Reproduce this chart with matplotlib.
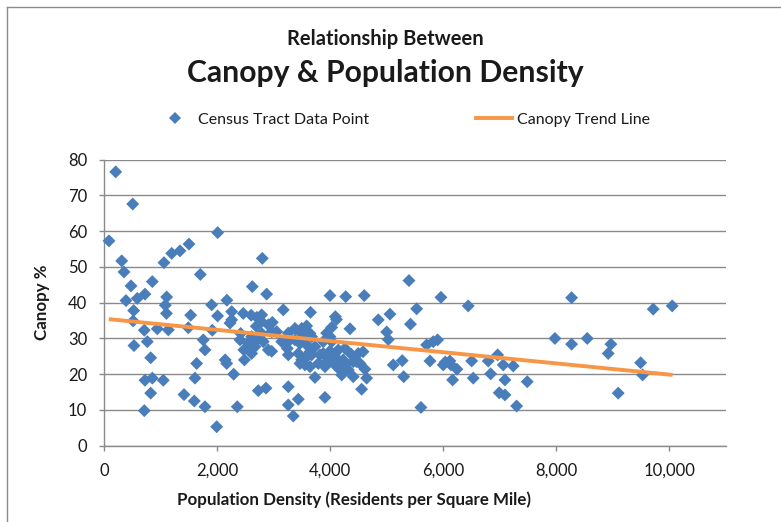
import matplotlib
matplotlib.use("Agg")
import matplotlib.pyplot as plt
from matplotlib.lines import Line2D

plt.rcParams['font.family'] = ['Lato', 'DejaVu Sans']

# Census tract data: population density (residents / sq mi) and canopy %
density = [
    83, 202, 503, 308, 349, 473, 384, 584, 720, 850, 1056, 1193, 1340, 1499, 2007, 1700,
    1104, 1080, 1100, 520, 510, 708, 938, 1133, 761, 525, 821, 1529, 1487, 1900, 2005,
    1912, 2170, 2255, 2255, 2225, 2460, 2414, 1752, 1782, 1635, 2140, 2166, 2470, 2480,
    2290, 720, 850, 1044, 1605, 821, 1411, 1593, 1782, 2354, 708, 1989,
    2620, 2797, 2874, 3995, 4273, 4602, 3168, 3650, 2600, 2700, 2786, 2786, 2975, 2903,
    2690, 4090, 4110, 4349, 3375, 3582, 3494, 4025, 3936, 3257, 3641, 2786, 2963, 3051,
    3494, 3995, 2609, 2402, 2697, 2814, 3140, 3257, 3375, 3552, 3464, 3582, 3670, 3876,
    4025, 2549, 2667, 2549, 2608, 2903, 2963, 3240, 3257, 3434, 3729, 3641, 3818, 3876,
    3995, 4142, 4083, 4260, 4370, 4496, 4580, 3494, 3552, 3582, 3670, 3965, 4083, 4142,
    4230, 4407, 4467, 3936, 3464, 3788, 4526, 3552, 3641, 3906, 4083, 4202, 4260, 4172,
    4319, 4614, 3729, 4202, 4407, 4644, 4555, 3257, 2726, 2862, 3434, 3257, 3906, 3345,
    4850, 5057, 5393, 5529, 5959, 6442, 5420, 4998, 5027, 5706, 5823, 5900, 5115, 5274,
    5300, 5605, 5765, 6000, 6036, 6118, 6137, 6166, 6242, 6503, 6531, 6797, 6839, 6963,
    6991, 7062, 7092, 7092, 7239, 7299, 7487, 7977, 8272, 8272, 8549, 8920, 8968, 9097,
    9494, 9529, 9717, 10053,
]
canopy = [
    57.3, 76.6, 67.6, 51.7, 48.6, 44.7, 40.6, 41.2, 42.4, 45.9, 51.2, 53.8, 54.5, 56.4, 59.6, 47.9,
    41.6, 39.3, 37.0, 37.8, 34.9, 32.3, 32.7, 32.4, 29.1, 28.0, 24.6, 36.5, 33.0, 39.4, 36.3,
    32.3, 40.7, 37.5, 35.2, 34.3, 37.0, 31.4, 29.6, 26.8, 23.0, 24.0, 23.0, 26.8, 24.0,
    20.0, 18.3, 18.9, 18.3, 18.9, 14.7, 14.3, 12.5, 10.9, 10.9, 9.8, 5.3,
    44.5, 52.4, 42.4, 42.0, 41.7, 42.0, 38.0, 37.3, 36.5, 35.9, 36.6, 34.7, 34.5, 33.8,
    33.4, 36.1, 35.3, 32.7, 32.8, 33.5, 32.8, 33.1, 31.5, 31.5, 31.4, 31.4, 31.9, 31.9,
    31.4, 30.5, 30.5, 29.6, 29.6, 29.1, 29.1, 29.1, 29.6, 29.8, 28.6, 28.2, 30.5, 29.1,
    29.1, 28.6, 27.7, 27.0, 25.8, 26.8, 26.4, 27.2, 25.4, 25.8, 27.7, 26.3, 25.4, 25.8,
    26.5, 26.8, 25.8, 27.2, 25.6, 25.8, 26.3, 24.0, 24.4, 24.9, 25.4, 24.4, 24.4, 24.0,
    24.0, 23.5, 23.5, 23.5, 23.0, 23.0, 23.0, 22.6, 22.1, 22.1, 22.6, 22.1, 22.6, 21.2,
    21.2, 21.4, 19.1, 19.8, 19.3, 18.9, 15.8, 16.5, 15.4, 16.1, 13.0, 11.4, 13.5, 8.3,
    35.2, 36.8, 46.2, 38.3, 41.5, 39.1, 34.0, 31.8, 29.7, 28.2, 29.1, 29.6, 22.6, 23.8,
    19.3, 10.7, 23.7, 22.6, 23.4, 23.7, 22.6, 18.4, 21.4, 23.7, 18.9, 23.7, 20.1, 25.4,
    14.8, 22.6, 18.4, 14.2, 22.3, 11.1, 17.9, 30.0, 41.4, 28.4, 30.0, 25.8, 28.4, 14.7,
    23.2, 19.8, 38.2, 39.1,
]

# Trend line end points
trend_x = [80, 10060]
trend_y = [35.4, 19.8]

x_ticks = [0, 2000, 4000, 6000, 8000, 10000]
y_ticks = [0, 10, 20, 30, 40, 50, 60, 70, 80]

W, H = 781, 522
fig = plt.figure(figsize=(W / 100, H / 100), dpi=100)
fig.patch.set_facecolor('white')

ax = fig.add_axes([104.3 / W, 1 - 445.7 / H, (725.7 - 104.3) / W, (445.7 - 159.7) / H])

grid_c = '#8a8a8a'
ax.set_xlim(0, 11000)
ax.set_ylim(0, 80)
ax.set_yticks(y_ticks)
ax.set_xticks(x_ticks)
ax.set_xticklabels([f"{v:,}" for v in x_ticks])
ax.yaxis.grid(True, color=grid_c, linewidth=1.0)
ax.set_axisbelow(True)
for s in ['top', 'right']:
    ax.spines[s].set_visible(False)
for s in ['left', 'bottom']:
    ax.spines[s].set_color(grid_c)
    ax.spines[s].set_linewidth(1.0)
ax.tick_params(axis='both', direction='out', length=3.8, width=1.0, color=grid_c,
               labelsize=12, labelcolor='#1a1a1a', pad=8.5)

ax.scatter(density, canopy, marker='D', s=6.6 ** 2, color='#4a7ebb',
           edgecolors='none', zorder=3, clip_on=False)
ax.plot(trend_x, trend_y, color='#f79646', linewidth=2.8, zorder=4,
        solid_capstyle='butt')

# Titles
fig.text(385 / W, 1 - 39 / H, 'Relationship Between', ha='center', va='center',
         fontsize=14.5, fontweight='bold', color='#1a1a1a')
fig.text(385 / W, 1 - 73 / H, 'Canopy & Population Density', ha='center', va='center',
         fontsize=21.7, fontweight='bold', color='#1a1a1a')

# Axis labels
fig.text(42 / W, 1 - 302 / H, 'Canopy %', rotation=90, ha='center', va='center',
         fontsize=12.2, fontweight='bold', color='#1a1a1a')
fig.text(354 / W, 1 - 500 / H, 'Population Density (Residents per Square Mile)',
         ha='center', va='center', fontsize=12.2, fontweight='bold', color='#1a1a1a')

# Legend
handles = [
    Line2D([], [], marker='D', linestyle='none', markersize=6.0, color='#4a7ebb',
           markeredgewidth=0),
    Line2D([], [], color='#f79646', linewidth=2.8),
]
fs = 11.5
fig.legend(handles, ['Census Tract Data Point', 'Canopy Trend Line'],
           loc='center', bbox_to_anchor=(403.5 / W, 1 - 120 / H), ncol=2,
           frameon=False, fontsize=fs, handlelength=36 / (fs * 100 / 72),
           handletextpad=5 / (fs * 100 / 72), columnspacing=107 / (fs * 100 / 72),
           borderpad=0, labelcolor='#1a1a1a')

# Chart area border (top and left edges visible)
bc = '#8c8c8c'
fig.add_artist(Line2D([7.5 / W, 1.0], [1 - 7 / H, 1 - 7 / H], color=bc, linewidth=1.0,
                      transform=fig.transFigure))
fig.add_artist(Line2D([7.5 / W, 7.5 / W], [0.0, 1 - 7 / H], color=bc, linewidth=1.0,
                      transform=fig.transFigure))

fig.savefig('out.png', dpi=100, facecolor='white')
